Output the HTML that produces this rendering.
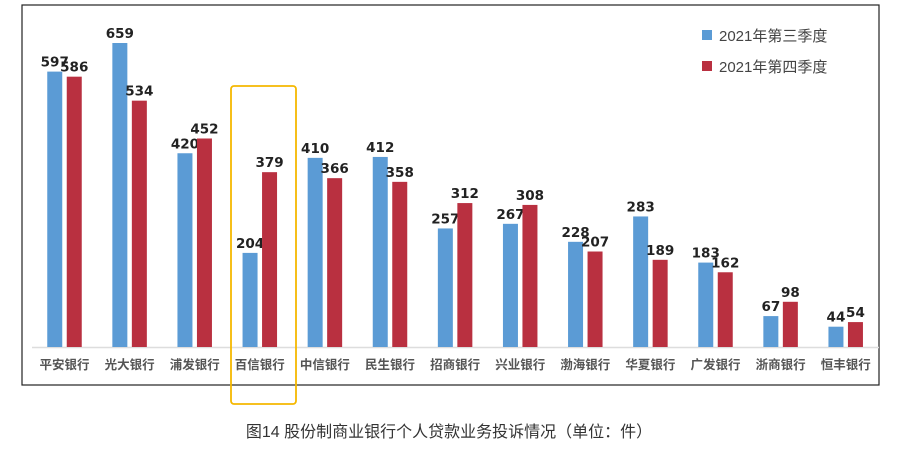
<!DOCTYPE html>
<html><head><meta charset="utf-8">
<style>
html,body{margin:0;padding:0;background:#fff;width:914px;height:453px;overflow:hidden}
svg text{font-family:"Liberation Sans","Noto Sans CJK SC",sans-serif}
</style></head>
<body>
<svg id="chart" width="914" height="453" viewBox="0 0 914 453" xmlns="http://www.w3.org/2000/svg">
<rect x="22" y="5" width="857" height="380" fill="#fff" stroke="#222" stroke-width="1.2"/>
<line x1="32" y1="347.5" x2="879" y2="347.5" stroke="#ddd" stroke-width="1.5"/>
<g id="bars"></g>
<g id="labels"></g>
<g>
 <g>
  <rect x="702" y="30" width="10" height="10" fill="#5b9bd5"/>
  <text x="719" y="41" font-size="15" fill="#444">2021年第三季度</text>
 </g>
 <g>
  <rect x="702" y="61" width="10" height="10" fill="#b93040"/>
  <text x="719" y="72" font-size="15" fill="#444">2021年第四季度</text>
 </g>
</g>
<rect x="231" y="86" width="65" height="318" rx="3" fill="none" stroke="#f5b800" stroke-width="1.8"/>
<text x="449" y="437" font-size="16" fill="#333" text-anchor="middle">图14  股份制商业银行个人贷款业务投诉情况（单位：件）</text>
</svg>
<script>
const categories = ["平安银行","光大银行","浦发银行","百信银行","中信银行","民生银行","招商银行","兴业银行","渤海银行","华夏银行","广发银行","浙商银行","恒丰银行"];
const q3Values = [597,659,420,204,410,412,257,267,228,283,183,67,44];
const q4Values = [586,534,452,379,366,358,312,308,207,189,162,98,54];

const NS="http://www.w3.org/2000/svg";
const baseY=347, pxPerUnit=304/659, groupStart=64.5, groupStep=65.1, barW=15, gap=4.5;
function yScale(v){return baseY - v*pxPerUnit;}
function xCenter(i){return groupStart + groupStep*i;}
const barsG=document.getElementById('bars');
const labelsG=document.getElementById('labels');
function mk(tag,attrs){const e=document.createElementNS(NS,tag);for(const k in attrs)e.setAttribute(k,attrs[k]);return e;}
categories.forEach((c,i)=>{
  const cx=xCenter(i);
  [[q3Values[i],'#5b9bd5',cx-gap/2-barW,'q3'],[q4Values[i],'#b93040',cx+gap/2,'q4']].forEach(([v,col,x,s])=>{
    const r=mk('rect',{x:x,y:yScale(v),width:barW,height:baseY-yScale(v),fill:col});
    
    
    barsG.appendChild(r);
    const t=mk('text',{x:x+barW/2,y:yScale(v)-5,'text-anchor':'middle','font-size':'13.5','font-weight':'bold',fill:'#222'});
    t.style.fontFamily='"DejaVu Sans","Liberation Sans",sans-serif';
    t.textContent=v;
    
    
    barsG.appendChild(t);
  });
  const l=mk('text',{x:cx,y:369,'text-anchor':'middle','font-size':'12.5','font-weight':'bold',fill:'#555'});
  l.textContent=c;
  
  
  labelsG.appendChild(l);
});
</script>
</body></html>
